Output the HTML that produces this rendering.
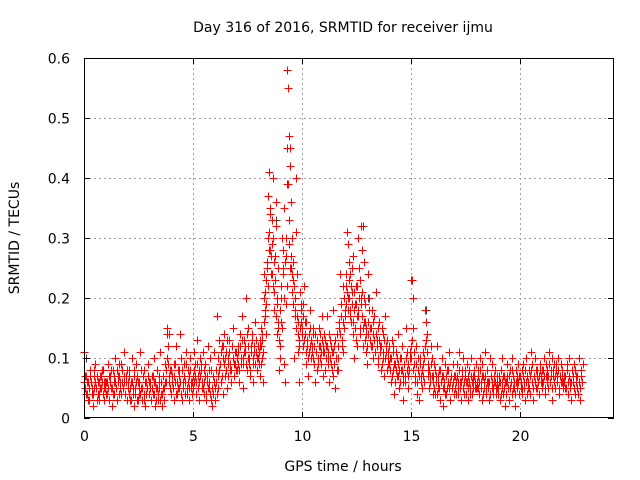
<!DOCTYPE html>
<html><head><meta charset="utf-8"><style>
body{margin:0;background:#fff;}
svg{display:block;font-family:"DejaVu Sans","Liberation Sans",sans-serif;}
</style></head><body>
<svg id="chart" width="640" height="480" xmlns="http://www.w3.org/2000/svg">
<rect width="640" height="480" fill="#fff"/>
<text x="343" y="32" font-size="14" text-anchor="middle">Day 316 of 2016, SRMTID for receiver ijmu</text>
<text x="343" y="471" font-size="14" text-anchor="middle">GPS time / hours</text>
<text transform="translate(19,238) rotate(-90)" font-size="14" text-anchor="middle">SRMTID / TECUs</text>
<g id="grid"></g>
<g id="gray"></g>
<g id="red"></g>
<g id="axes"></g>
</svg>
<script>
const xTicks = [0, 5, 10, 15, 20];
const yTicks = [0, 0.1, 0.2, 0.3, 0.4, 0.5, 0.6];
const yTickLabels = ["0", "0.1", "0.2", "0.3", "0.4", "0.5", "0.6"];
// red series A: values (hundredths of TECU) per hour, samples evenly within each hour
const redHour0 = [11,7,4,6,3,5,8,6,4,2,5,7,9,5,3,6,4,7,5,8,4,3,6,5];
const redHour1 = [6,4,9,3,7,5,2,8,6,4,10,5,3,7,9,6,4,8,5,11,6,4,7,3];
const redHour2 = [5,8,3,6,10,4,2,7,5,9,3,6,4,11,5,3,7,4,8,2,6,5,9,4];
const redHour3 = [5,3,7,4,10,6,2,5,8,3,6,11,4,2,7,5,3,9,6,15,12,14,8,4];
const redHour4 = [7,5,9,3,6,12,4,8,5,14,10,3,6,9,7,4,11,5,8,3,10,6,4,7];
const redHour5 = [11,6,9,4,13,7,3,10,8,5,11,4,6,9,3,7,12,5,10,8,2,4,6,11];
const redHour6 = [3,8,17,5,13,9,6,12,4,10,14,7,11,5,9,13,8,6,12,10,15,7,9,11];
const redHour7 = [8,12,6,14,10,17,9,5,13,11,20,8,15,10,7,12,14,9,6,11,16,13,8,10];
const redHour8 = [9,12,7,15,10,13,6,24,18,21,14,26,30,37,41,35,28,24,33,40,22,18,27,36,32,19,15,25,8,12];
const redHour9 = [20,16,30,25,9,35,6,19,22,58,55,47,45,42,36,30,26,23,10,17,40,31,24,16,6,13,21,19,14];
const redHour10 = [19,12,22,16,9,13,7,11,15,18,10,12,14,9,6,11,13,8,10,15,12,9,17,7,11];
const redHour11 = [14,8,12,17,10,6,13,9,11,18,7,12,5,10,14,8,16,24,19,13,11,22,15,17];
const redHour12 = [22,31,29,20,26,18,24,16,21,27,14,10,19,13,22,12,30,17,25,15,20,32,28,12,16,26,19,11,14,9];
const redHour13 = [24,20,15,12,18,10,14,17,11,21,13,9,16,12,8,15,10,14,7,17,11,13,9,12];
const redHour14 = [10,6,13,8,12,4,9,11,7,14,5,10,8,12,6,3,9,7,15,11,5,8,10,12];
const redHour15 = [23,20,15,9,6,12,4,8,3,10,7,5,11,9,6,18,16,14,8,5,7,12,10,4];
const redHour16 = [6,9,4,7,12,5,8,3,6,10,2,7,5,9,4,8,6,11,3,7,5,9,6,4];
const redHour17 = [7,4,9,5,11,6,3,8,5,10,4,7,6,9,3,8,5,10,4,7,6,8,5,9];
const redHour18 = [5,8,4,10,6,3,9,7,5,11,4,8,6,3,10,7,5,9,4,6,8,5,7,4];
const redHour19 = [6,3,8,5,10,4,7,2,6,9,5,3,8,6,4,10,7,5,2,8,6,9,4,7];
const redHour20 = [5,8,4,9,6,3,10,7,5,8,4,11,6,9,3,7,10,5,8,6,4,9,7,5];
const redHour21 = [8,6,10,4,9,7,5,11,6,8,3,10,7,9,5,8,6,10,4,7,9,6,8,5];
const redHour22 = [7,5,9,4,10,6,3,8,6,9,4,7,5,10,3,8,6,9];
const redHours = [redHour0,redHour1,redHour2,redHour3,redHour4,redHour5,redHour6,redHour7,redHour8,redHour9,redHour10,redHour11,redHour12,redHour13,redHour14,redHour15,redHour16,redHour17,redHour18,redHour19,redHour20,redHour21,redHour22];
// red series B: a second set of samples per hour
const redBHour0 = [6,5,7,4,6,5,3,7,6,5,4,8,6,5,7,4,6,3,5,7,6,8,5,6];
const redBHour1 = [4,6,5,7,3,6,8,5,4,7,6,5,8,6,4,7,5,9,6,5,7,4,6,8];
const redBHour2 = [6,4,7,5,3,6,5,8,4,6,7,3,5,6,4,8,5,7,3,6,4,5,7,6];
const redBHour3 = [4,6,3,5,7,4,6,3,5,4,7,5,3,6,4,5,3,6,8,10,9,7,6,5];
const redBHour4 = [8,6,5,7,9,4,6,5,8,7,6,4,8,5,7,6,9,4,6,5,7,8,5,6];
const redBHour5 = [5,8,7,6,9,5,8,6,7,9,6,5,8,7,4,6,5,8,6,4,3,5,7,6];
const redBHour6 = [5,6,4,7,10,8,9,11,7,12,9,10,8,13,7,10,11,9,8,12,10,9,11,8];
const redBHour7 = [10,9,11,8,12,9,13,10,11,12,9,14,10,12,9,8,11,13,10,12,9,11,10,12];
const redBHour8 = [10,11,13,9,12,14,11,16,20,17,23,19,25,22,28,31,34,27,29,24,30,21,26,23,17,20,14,16,13,10];
const redBHour9 = [18,22,15,24,28,20,26,30,27,45,39,33,29,25,27,21,24,19,22,18,20,15,17,14,11,12,15,18,16];
const redBHour10 = [15,17,13,14,11,16,12,10,14,12,13,11,15,10,12,14,11,13,9,12,10,14,11,13,12];
const redBHour11 = [11,13,10,12,9,11,14,10,12,8,11,9,13,10,8,12,10,15,14,17,12,16,20,18];
const redBHour12 = [19,24,21,18,23,20,17,22,19,25,16,18,21,15,19,17,22,18,20,14,23,19,21,17,15,20,16,13,15,12];
const redBHour13 = [16,14,18,13,15,12,16,13,11,14,12,15,10,13,11,12,9,11,13,10,12,8,10,11];
const redBHour14 = [9,8,10,7,11,9,6,8,10,7,9,8,6,10,8,7,9,6,10,8,7,9,8,11];
const redBHour15 = [10,13,8,11,7,9,6,8,10,7,9,6,8,7,10,12,13,11,9,7,8,6,9,7];
const redBHour16 = [7,5,8,6,4,7,6,5,8,6,7,5,6,4,7,5,6,8,5,6,7,5,6,7];
const redBHour17 = [5,6,7,4,6,8,5,6,7,5,6,8,4,6,7,5,6,4,7,6,5,7,6,5];
const redBHour18 = [6,7,5,6,8,5,7,4,6,7,5,6,8,5,6,4,7,6,5,7,6,4,6,5];
const redBHour19 = [5,7,6,4,6,7,5,6,4,7,6,5,7,5,6,8,5,6,4,6,7,5,6,7];
const redBHour20 = [7,6,5,7,5,8,6,4,7,6,5,7,8,6,5,7,6,8,7,5,6,7,8,6];
const redBHour21 = [6,8,7,5,7,6,8,7,9,6,7,5,8,6,7,9,7,6,8,5,7,6,7,6];
const redBHour22 = [6,7,5,8,6,7,5,6,7,5,8,6,7,4,6,5,7,6];
const redBHours = [redBHour0,redBHour1,redBHour2,redBHour3,redBHour4,redBHour5,redBHour6,redBHour7,redBHour8,redBHour9,redBHour10,redBHour11,redBHour12,redBHour13,redBHour14,redBHour15,redBHour16,redBHour17,redBHour18,redBHour19,redBHour20,redBHour21,redBHour22];
const grayTimes = [0.1, 3.8, 8.8, 9.3, 9.5, 12.8, 13.0, 15.0, 15.7, 22.9];
const grayValues = [0.10, 0.14, 0.33, 0.39, 0.25, 0.32, 0.20, 0.23, 0.18, 0.09];

const L=84, R=614, T=58, B=418, XMAX=24.3, YMAX=0.6;
const xs = v => L + v/XMAX*(R-L);
const ys = v => B - v/YMAX*(B-T);
const NS="http://www.w3.org/2000/svg";
function mk(tag, attrs, parent){const e=document.createElementNS(NS,tag);for(const k in attrs)e.setAttribute(k,attrs[k]);parent.appendChild(e);return e;}
const grid=document.getElementById('grid'), axes=document.getElementById('axes');
xTicks.forEach(t=>{
  const x=Math.round(xs(t))+0.5;
  if(t>0){const g=mk('line',{x1:x,y1:T,x2:x,y2:B,stroke:'#a0a0a0','stroke-dasharray':'2,3'},grid);
  
  }
  mk('line',{x1:x,y1:B,x2:x,y2:B-6,stroke:'#000'},axes);
  mk('line',{x1:x,y1:T,x2:x,y2:T+6,stroke:'#000'},axes);
  const lb=mk('text',{x:x,y:B+23,'font-size':14,'text-anchor':'middle'},axes);
  lb.textContent=t;
  
  
});
yTicks.forEach((t,i)=>{
  const y=Math.round(ys(t))+0.5;
  if(t>0&&t<YMAX){const g=mk('line',{x1:L,y1:y,x2:R,y2:y,stroke:'#a0a0a0','stroke-dasharray':'2,3'},grid);
  
  }
  mk('line',{x1:L,y1:y,x2:L+6,y2:y,stroke:'#000'},axes);
  mk('line',{x1:R,y1:y,x2:R-6,y2:y,stroke:'#000'},axes);
  const lb=mk('text',{x:70,y:y+5,'font-size':14,'text-anchor':'end'},axes);
  lb.textContent=yTickLabels[i];
  
  
});
const frame=mk('rect',{x:L+0.5,y:T+0.5,width:R-L-1,height:B-T-1,fill:'none',stroke:'#000'},axes);


function cross(x,y){x=Math.round(x)+0.5;y=Math.round(y)+0.5;const s=4;return `M${x-s},${y}H${x+s}M${x},${y-s}V${y+s}`;}
let gd='';
grayTimes.forEach((t,i)=>{gd+=cross(xs(t),ys(grayValues[i]));});
const gp=mk('path',{d:gd,stroke:'#404040','stroke-width':1,fill:'none','shape-rendering':'crispEdges'},document.getElementById('gray'));


let rd='';
function addHours(list, offset){
  list.forEach((arr,h)=>{
    const span = h===22 ? 0.9 : 1;
    arr.forEach((v,k)=>{const t=h+(k+offset)/arr.length*span; rd+=cross(xs(t),ys(v/100));});
  });
}
addHours(redHours, 0.5);
addHours(redBHours, 0.0);
const rp=mk('path',{d:rd,stroke:'#ff0000','stroke-width':1,fill:'none','shape-rendering':'crispEdges'},document.getElementById('red'));


</script>
</body></html>
